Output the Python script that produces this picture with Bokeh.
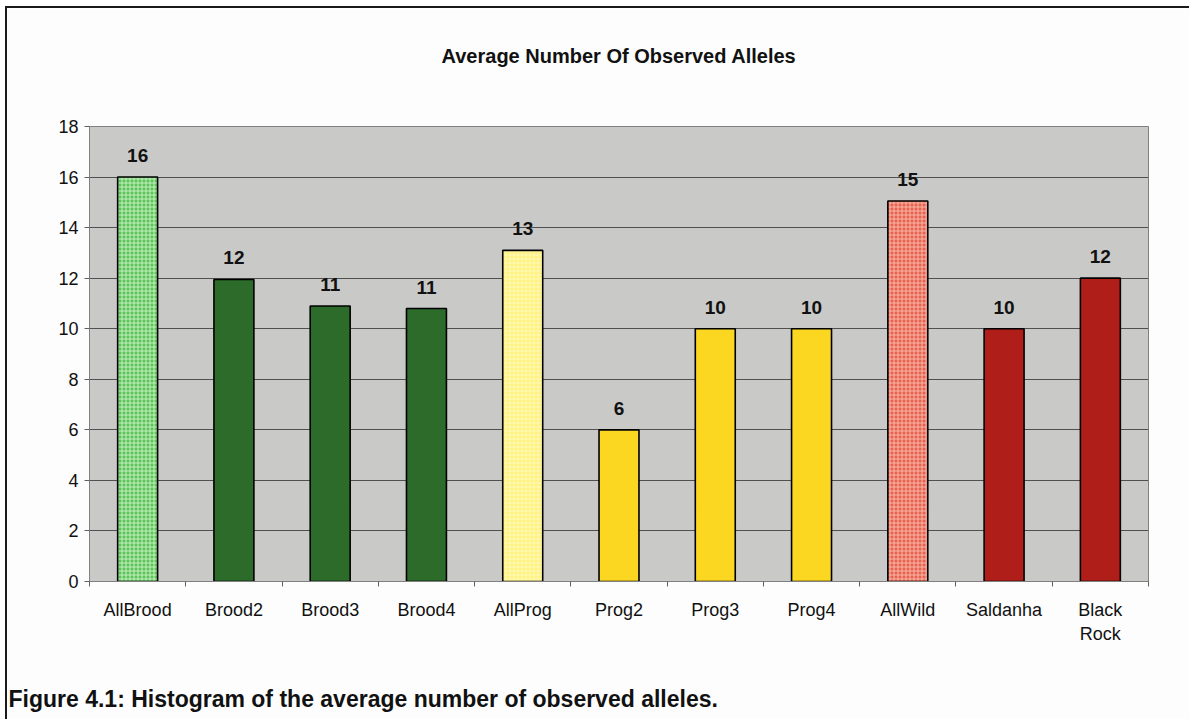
from bokeh.plotting import figure
from bokeh.models import (ColumnDataSource, FixedTicker, LabelSet, Title, Range1d)
from bokeh.core.properties import value
from bokeh.embed import file_html
from bokeh.resources import INLINE

# Population groups and their average number of observed alleles
groups = ["AllBrood", "Brood2", "Brood3", "Brood4", "AllProg", "Prog2",
          "Prog3", "Prog4", "AllWild", "Saldanha", "Black Rock"]
tick_labels = ["AllBrood", "Brood2", "Brood3", "Brood4", "AllProg", "Prog2",
               "Prog3", "Prog4", "AllWild", "Saldanha", "Black\nRock"]
alleles = [16.0, 11.95, 10.9, 10.8, 13.1, 6.0, 10.0, 10.0, 15.05, 10.0, 12.0]
y_ticks = [0, 2, 4, 6, 8, 10, 12, 14, 16, 18]

FONT = "Liberation Sans"
# the figure sits inside a page frame offset from the window corner
OX, OY = 7, 8
W, H = 1191 - OX, 721 - OY
FL, FR, FT, FB = 89 - OX, 43, 126 - OY, 140

fills = ["#5cc25a", "#2c6b2a", "#2c6b2a", "#2c6b2a", "#fff27c", "#fbd722",
         "#fbd722", "#fbd722", "#e8604e", "#b01e1a", "#b01e1a"]
hatches = ["+", " ", " ", " ", "+", " ", " ", " ", "+", " ", " "]
hatch_cols = ["#c6f2c0", "#2c6b2a", "#2c6b2a", "#2c6b2a", "#fff8b8", "#fbd722",
              "#fbd722", "#fbd722", "#f8b8a8", "#b01e1a", "#b01e1a"]

xs = [i + 0.5 for i in range(len(groups))]
src = ColumnDataSource(dict(x=xs, top=alleles, fill=fills, hatch=hatches,
                            hcol=hatch_cols,
                            lbl=[f"{v:.0f}" for v in alleles]))

p = figure(width=W, height=H, output_backend="svg", toolbar_location=None,
           x_range=Range1d(0, len(groups)), y_range=Range1d(0, 18),
           min_border_left=FL, min_border_right=FR, min_border_top=FT,
           min_border_bottom=FB)
p.margin = (OY - 2, 0, 0, OX - 2)
p.styles = {"border-style": "solid none none solid",
            "border-width": "2px 0px 0px 2px",
            "border-color": "#1a1a1a"}
p.background_fill_color = "#c9c9c7"
p.border_fill_color = "#fdfdfd"
p.outline_line_color = "#808080"
p.outline_line_width = 1

p.vbar(x="x", top="top", bottom=0, width=0.415, source=src,
       fill_color="fill", hatch_pattern="hatch", hatch_color="hcol",
       hatch_scale=4, hatch_weight=1, line_color="black", line_width=1.6)

labels = LabelSet(x="x", y="top", text="lbl", source=src, y_offset=15,
                  text_align="center", text_baseline="alphabetic",
                  text_font=value(FONT), text_font_size="19px",
                  text_font_style="bold", text_color="#111111")
p.add_layout(labels)

# y axis
p.yaxis.ticker = FixedTicker(ticks=y_ticks)
p.yaxis.axis_line_color = "#808080"
p.yaxis.major_tick_line_color = "#606060"
p.yaxis.major_tick_out = 5
p.yaxis.major_tick_in = 0
p.yaxis.minor_tick_line_color = None
p.yaxis.major_label_standoff = 6
p.yaxis.major_label_text_font = FONT
p.yaxis.major_label_text_font_size = "18px"
p.yaxis.major_label_text_color = "#111111"

# x axis: labels at category centres, tick marks between categories
p.xaxis.ticker = FixedTicker(ticks=xs, minor_ticks=list(range(len(groups) + 1)))
p.xaxis.major_label_overrides = {x: t for x, t in zip(xs, tick_labels)}
p.xaxis.axis_line_color = "#808080"
p.xaxis.major_tick_line_color = None
p.xaxis.minor_tick_line_color = "#606060"
p.xaxis.minor_tick_out = 5
p.xaxis.minor_tick_in = 0
p.xaxis.major_label_standoff = 12
p.xaxis.major_label_text_font = FONT
p.xaxis.major_label_text_font_size = "18px"
p.xaxis.major_label_text_color = "#111111"

p.xgrid.grid_line_color = None
p.ygrid.ticker = FixedTicker(ticks=y_ticks)
p.ygrid.grid_line_color = "#505050"
p.ygrid.grid_line_width = 1

# blank spacer between the frame and the chart title
p.add_layout(Title(text=" ", text_font_size="39px"), "above")

# chart title above the frame
p.title.text = "Average Number Of Observed Alleles"
p.title.align = "center"
p.title.text_font = FONT
p.title.text_font_size = "20px"
p.title.text_font_style = "bold"
p.title.text_color = "#111111"

# blank spacer between the x axis and the caption
p.add_layout(Title(text=" ", text_font_size="31px", standoff=0), "below")

# figure caption below the x axis
caption = Title(text="Figure 4.1: Histogram of the average number of observed alleles.",
                align="left", offset=8 - OX - FL, standoff=0,
                text_font=FONT, text_font_size="23px", text_font_style="bold",
                text_color="#111111")
p.add_layout(caption, "below")

open("out.html", "w").write(file_html(p, INLINE))
